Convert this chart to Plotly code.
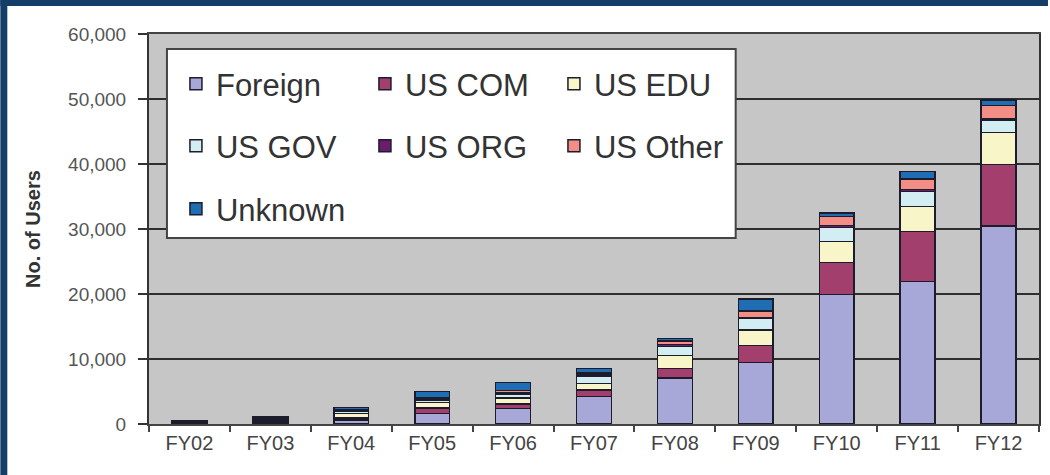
import plotly.graph_objects as go

years = ["FY02", "FY03", "FY04", "FY05", "FY06", "FY07", "FY08", "FY09", "FY10", "FY11", "FY12"]

foreign  = [120, 300, 650, 1640, 2410, 4200, 7080, 9500, 19900, 21950, 30500]
us_com   = [60, 150, 300, 820, 670, 1030, 1450, 2550, 4970, 7640, 9400]
us_edu   = [80, 250, 650, 870, 920, 1030, 1980, 2400, 3230, 3850, 4970]
us_gov   = [40, 150, 300, 350, 620, 1020, 1390, 1800, 2160, 2300, 1800]
us_org   = [20, 50, 100, 150, 250, 260, 300, 120, 250, 310, 250]
us_other = [30, 80, 150, 200, 300, 300, 600, 1000, 1450, 1640, 2050]
unknown  = [100, 200, 400, 1000, 1200, 700, 380, 1900, 500, 1130, 880]

series_names = ["Foreign", "US COM", "US EDU", "US GOV", "US ORG", "US Other", "Unknown"]
series_vals = [foreign, us_com, us_edu, us_gov, us_org, us_other, unknown]
colors = ["#a7a7d8", "#a23f6c", "#f8f6c8", "#d2eef3", "#6b1c6f", "#f28e86", "#1f6db3"]
legend_ids = ["legend", "legend", "legend", "legend2", "legend2", "legend2", "legend3"]

y_ticks = [0, 10000, 20000, 30000, 40000, 50000, 60000]
y_ticktext = ["0", "10,000", "20,000", "30,000", "40,000", "50,000", "60,000"]

W, H = 1050, 475
ML, MR, MT, MB = 149, 9, 34, 51
PW, PH = W - ML - MR, H - MT - MB

def px_x(p):
    return (p - ML) / PW

def px_y(p):
    return (H - MB - p) / PH

fig = go.Figure()
for name, vals, col, lg in zip(series_names, series_vals, colors, legend_ids):
    fig.add_trace(go.Bar(
        x=years, y=vals, name=name, legend=lg,
        marker=dict(color=col, line=dict(color="#1c1c2c", width=1.5)),
    ))

font_main = "Liberation Sans, Arial, sans-serif"

fig.update_layout(
    width=W, height=H,
    barmode="stack", bargap=0.57,
    paper_bgcolor="white", plot_bgcolor="#c6c6c6",
    margin=dict(l=ML, r=MR, t=MT, b=MB),
    font=dict(family=font_main, color="#444"),
    xaxis=dict(
        showline=True, linecolor="#444", linewidth=2, mirror=True,
        ticks="outside", tickson="boundaries", ticklen=6, tickcolor="#444", tickwidth=2,
        tickfont=dict(size=20, color="#444"), showgrid=False,
    ),
    yaxis=dict(
        range=[0, 60000], tickvals=y_ticks, ticktext=y_ticktext,
        showline=True, linecolor="#333", linewidth=2, mirror=True,
        ticks="outside", ticklen=9, tickcolor="#333", tickwidth=2,
        ticklabelstandoff=8,
        tickfont=dict(size=19, color="#555"),
        showgrid=True, gridcolor="#2e2e2e", gridwidth=2, zeroline=False,
        title=dict(text="<b>No. of Users</b>", font=dict(size=20, color="#333"), standoff=22),
    ),
    showlegend=True,
)

leg_common = dict(orientation="h", entrywidth=144, entrywidthmode="pixels",
                  font=dict(size=31, color="#333", family=font_main),
                  bgcolor="rgba(0,0,0,0)", borderwidth=0, traceorder="normal",
                  xanchor="left", yanchor="middle")
fig.update_layout(
    legend=dict(x=px_x(176), y=px_y(84), **leg_common),
    legend2=dict(x=px_x(176), y=px_y(146), **leg_common),
    legend3=dict(x=px_x(176), y=px_y(209), **leg_common),
)

shapes = [
    # legend box
    dict(type="rect", xref="paper", yref="paper", layer="above",
         x0=px_x(167), x1=px_x(737), y0=px_y(238), y1=px_y(49),
         fillcolor="white", line=dict(color="#444", width=2)),
    # blue frame (left and top)
    dict(type="rect", xref="paper", yref="paper", layer="above",
         x0=px_x(0), x1=px_x(7), y0=px_y(H), y1=px_y(0),
         fillcolor="#143d68", line=dict(width=0)),
    dict(type="rect", xref="paper", yref="paper", layer="above",
         x0=px_x(0), x1=px_x(W), y0=px_y(6), y1=px_y(0),
         fillcolor="#143d68", line=dict(width=0)),
]
fig.update_layout(shapes=shapes)

fig.write_html(
    "out.html",
    config={"displayModeBar": False},
    post_script="document.body.style.margin='0';document.body.style.overflow='hidden';",
)
